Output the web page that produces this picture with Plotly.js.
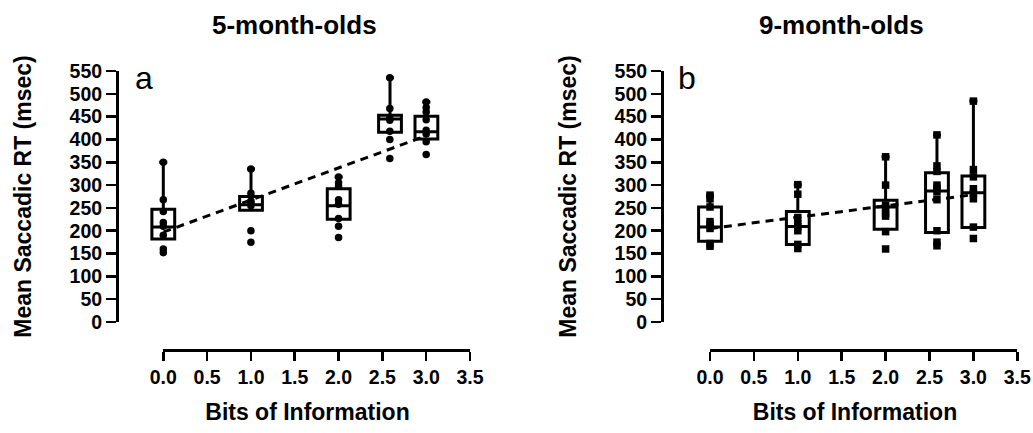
<!DOCTYPE html>
<html><head><meta charset="utf-8">
<script src="https://cdn.plot.ly/plotly-3.0.1.min.js"></script>
<style>body{margin:0;background:#fff}</style>
</head><body>
<div id="chart" style="width:1033px;height:433px"></div>
<script>
// ---------- DATA ----------
// Bits of information (log2 of number of possible locations)
const bits = [0, 1, 2, 2.585, 3];
const xTickVals = [0, 0.5, 1, 1.5, 2, 2.5, 3, 3.5];
const xTickText = ['0.0', '0.5', '1.0', '1.5', '2.0', '2.5', '3.0', '3.5'];
const yTickVals = [0, 50, 100, 150, 200, 250, 300, 350, 400, 450, 500, 550];

// 5-month-olds (panel a)
const a_q1     = [182, 245, 225, 416, 401];
const a_median = [208, 257, 255, 445, 417];
const a_q3     = [247, 275, 292, 453, 451];
const a_max    = [350, 335, 318, 535, 482];
const a_points = [
  [350, 268, 242, 218, 210, 190, 160, 152],
  [335, 282, 265, 260, 255, 200, 175],
  [318, 305, 298, 268, 258, 227, 210, 185],
  [535, 468, 447, 442, 418, 400, 358],
  [482, 470, 460, 443, 420, 412, 395, 367]
];
const a_fitX = [0, 3];
const a_fitY = [197, 408];

// 9-month-olds (panel b)
const b_q1     = [177, 170, 203, 196, 207];
const b_median = [208, 209, 252, 287, 283];
const b_q3     = [252, 242, 267, 327, 320];
const b_max    = [278, 301, 362, 410, 484];
const b_points = [
  [278, 270, 252, 220, 213, 205, 172, 166],
  [301, 280, 229, 215, 209, 200, 170, 161],
  [362, 300, 256, 249, 238, 232, 198, 160],
  [410, 342, 330, 300, 293, 285, 268, 200, 175, 167],
  [484, 334, 318, 292, 282, 270, 208, 183]
];
const b_fitX = [0, 3];
const b_fitY = [205, 279];

const titles = ['5-month-olds', '9-month-olds'];
const panelLetters = ['a', 'b'];
const xTitle = 'Bits of Information';
const yTitle = 'Mean Saccadic RT (msec)';

// ---------- LAYOUT HELPERS ----------
const W = 1033, H = 433;
const fx = p => p / W;          // pixel x -> paper
const fy = p => 1 - p / H;      // pixel y -> paper
const FONT = 'Liberation Sans, Arial, Helvetica, sans-serif';

function flatX(groups) { const o = []; groups.forEach((g, i) => g.forEach(() => o.push(bits[i]))); return o; }
function flatY(groups) { const o = []; groups.forEach(g => g.forEach(v => o.push(v))); return o; }

function panelTraces(q1, med, q3, mx, pts, fitX, fitY, symbol, xData, xDisp, yAx) {
  return [
    {
      type: 'box', orientation: 'v', x: bits, q1: q1, median: med, q3: q3,
      lowerfence: q1, upperfence: mx, width: 0.26, whiskerwidth: 0.35,
      boxpoints: false, fillcolor: 'rgba(0,0,0,0)',
      line: {color: '#000', width: 3}, xaxis: xData, yaxis: yAx, hoverinfo: 'skip'
    },
    {
      type: 'scatter', mode: 'lines', x: fitX, y: fitY,
      line: {color: '#000', width: 3, dash: '8px,6px'}, xaxis: xDisp, yaxis: yAx, hoverinfo: 'skip'
    },
    {
      type: 'scatter', mode: 'markers', x: flatX(pts), y: flatY(pts), cliponaxis: false,
      marker: {symbol: symbol, size: 7.5, color: '#000'}, xaxis: xDisp, yaxis: yAx, hoverinfo: 'skip'
    }
  ];
}

const data = [
  ...panelTraces(a_q1, a_median, a_q3, a_max, a_points, a_fitX, a_fitY, 'circle', 'x', 'x3', 'y'),
  ...panelTraces(b_q1, b_median, b_q3, b_max, b_points, b_fitX, b_fitY, 'square', 'x2', 'x4', 'y2')
];

function yAxis(px) {
  return {
    domain: [fy(322), fy(71)], range: [0, 550], tickvals: yTickVals,
    anchor: 'free', position: fx(px),
    showline: true, linewidth: 3, linecolor: '#000',
    ticks: 'outside', ticklen: 10, tickwidth: 2.5, tickcolor: '#000',
    tickfont: {size: 19.5}, showgrid: false, zeroline: false, fixedrange: true,
    title: {text: yTitle, font: {size: 23}, standoff: 30}
  };
}
function xDataAxis(p0, p1, zeroPx, scale) {
  return {
    domain: [fx(p0), fx(p1)], range: [(p0 - zeroPx) / scale, (p1 - zeroPx) / scale],
    anchor: 'free', position: fy(350),
    showline: false, showticklabels: false, ticks: '', showgrid: false, zeroline: false,
    fixedrange: true,
    title: {text: xTitle, font: {size: 23}, standoff: 53}
  };
}
function xDispAxis(p0, p1) {
  return {
    domain: [fx(p0), fx(p1)], range: [0, 3.5], tickvals: xTickVals, ticktext: xTickText,
    anchor: 'free', position: fy(350),
    showline: true, linewidth: 3, linecolor: '#000',
    ticks: 'outside', ticklen: 9, tickwidth: 2.5, tickcolor: '#000',
    tickfont: {size: 19.5}, showgrid: false, zeroline: false, fixedrange: true
  };
}

const layout = {
  width: W, height: H,
  margin: {l: 0, r: 0, t: 0, b: 0, pad: 0},
  paper_bgcolor: '#fff', plot_bgcolor: 'rgba(0,0,0,0)',
  showlegend: false,
  font: {family: FONT, color: '#000', size: 18, weight: 'bold'},
  xaxis: xDataAxis(130, 485, 163.3, 87.7),
  xaxis2: xDataAxis(680, 1030, 710, 87.8),
  xaxis3: xDispAxis(163.3, 470),
  xaxis4: xDispAxis(710, 1017.3),
  yaxis: yAxis(117),
  yaxis2: yAxis(662),
  annotations: [
    {text: titles[0], x: fx(294), y: fy(25), xref: 'paper', yref: 'paper', xanchor: 'center', yanchor: 'middle', showarrow: false, font: {size: 26, weight: 'bold'}},
    {text: titles[1], x: fx(841), y: fy(25), xref: 'paper', yref: 'paper', xanchor: 'center', yanchor: 'middle', showarrow: false, font: {size: 26, weight: 'bold'}},
    {text: panelLetters[0], x: fx(133), y: fy(78), xref: 'paper', yref: 'paper', xanchor: 'left', yanchor: 'middle', showarrow: false, font: {size: 32, weight: 'normal'}},
    {text: panelLetters[1], x: fx(676), y: fy(78), xref: 'paper', yref: 'paper', xanchor: 'left', yanchor: 'middle', showarrow: false, font: {size: 32, weight: 'normal'}}
  ]
};

Plotly.newPlot('chart', data, layout, {staticPlot: true, displayModeBar: false});
</script>
</body></html>
